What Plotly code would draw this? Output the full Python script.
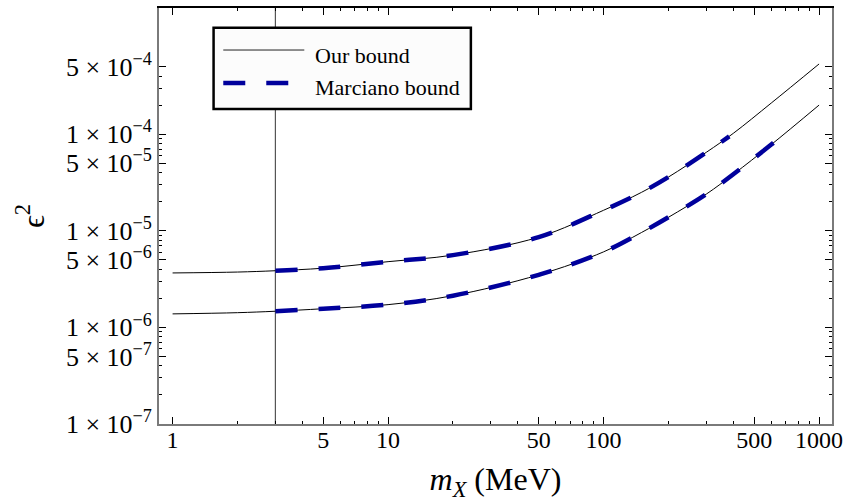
import plotly.graph_objects as go

# ---------------- data ----------------
mass = [1, 2, 3, 5, 10, 20, 50, 100, 150, 200, 300, 400, 600, 1000]
our_upper = [3.66e-6, 3.74e-6, 3.86e-6, 4.10e-6, 4.79e-6, 5.60e-6, 8.60e-6,
             1.63e-5, 2.50e-5, 3.60e-5, 6.50e-5, 1.02e-4, 2.10e-4, 5.33e-4]
our_lower = [1.38e-6, 1.42e-6, 1.47e-6, 1.56e-6, 1.72e-6, 2.13e-6, 3.50e-6,
             6.05e-6, 9.60e-6, 1.38e-5, 2.40e-5, 3.84e-5, 7.80e-5, 2.00e-4]

marc_mass_upper = [3, 5, 10, 20, 50, 100, 150, 200, 300, 383]
marc_upper = [3.86e-6, 4.10e-6, 4.79e-6, 5.60e-6, 8.60e-6,
              1.63e-5, 2.50e-5, 3.60e-5, 6.50e-5, 9.50e-5]
marc_mass_lower = [3, 5, 10, 20, 50, 100, 150, 200, 300, 400, 600, 640]
marc_lower = [1.47e-6, 1.56e-6, 1.72e-6, 2.13e-6, 3.50e-6, 6.05e-6,
              9.60e-6, 1.38e-5, 2.40e-5, 3.84e-5, 7.80e-5, 8.75e-5]

cut_mass = 3  # vertical reference line

x_tickvals = [1, 5, 10, 50, 100, 500, 1000]
x_ticktext = ["1", "5", "10", "50", "100", "500", "1000"]
x_minor = [2, 3, 4, 6, 7, 8, 9, 20, 30, 40, 60, 70, 80, 90,
           200, 300, 400, 600, 700, 800, 900]

y_tickvals = [1e-7, 5e-7, 1e-6, 5e-6, 1e-5, 5e-5, 1e-4, 5e-4]
y_ticktext = ["1 × 10<sup>−7</sup>", "5 × 10<sup>−7</sup>",
              "1 × 10<sup>−6</sup>", "5 × 10<sup>−6</sup>",
              "1 × 10<sup>−5</sup>", "5 × 10<sup>−5</sup>",
              "1 × 10<sup>−4</sup>", "5 × 10<sup>−4</sup>"]
y_minor = [m * 10.0 ** e for e in (-7, -6, -5, -4) for m in (2, 3, 4, 6, 7, 8, 9)]
y_minor = [v for v in y_minor if v < 5e-4]

x_range_log = [-0.063, 3.06]
y_range_log = [-7.0, -2.694]

# ---------------- figure ----------------
FONT = "Liberation Serif, Times New Roman, serif"
BLUE = "#00009c"
FRAME = "#7a7a7a"

fig = go.Figure()

fig.add_trace(go.Scatter(
    x=[cut_mass, cut_mass], y=[10 ** y_range_log[0], 10 ** y_range_log[1]],
    mode="lines", line=dict(color="#555555", width=1.2),
    showlegend=False, hoverinfo="skip"))

for xs, ys in ((mass, our_upper), (mass, our_lower)):
    fig.add_trace(go.Scatter(
        x=xs, y=ys, mode="lines", line=dict(color="black", width=1, shape="spline"),
        showlegend=False))

for xs, ys in ((marc_mass_upper, marc_upper), (marc_mass_lower, marc_lower)):
    fig.add_trace(go.Scatter(
        x=xs, y=ys, mode="lines",
        line=dict(color=BLUE, width=4.5, dash="22px,21px", shape="spline"),
        showlegend=False))

# dummy trace for the mirrored (top/right) tick axes
fig.add_trace(go.Scatter(x=[10], y=[1e-5], xaxis="x2", yaxis="y2",
                         mode="markers", marker=dict(opacity=0),
                         showlegend=False, hoverinfo="skip"))

common_tick = dict(ticks="inside", ticklen=7, tickwidth=1, tickcolor="black")
minor_style = dict(ticks="inside", ticklen=3.5, tickwidth=1, tickcolor="black")

fig.update_layout(
    width=847, height=502,
    margin=dict(l=159, r=15, t=8, b=78, autoexpand=False),
    paper_bgcolor="white", plot_bgcolor="white",
    font=dict(family=FONT, size=24, color="black"),
    showlegend=False,
    xaxis=dict(type="log", range=x_range_log, showgrid=False, zeroline=False,
               showline=True, linecolor=FRAME, linewidth=1.7,
               tickmode="array", tickvals=x_tickvals, ticktext=x_ticktext,
               minor=dict(tickmode="array", tickvals=x_minor, **minor_style),
               tickfont=dict(family=FONT, size=24), automargin=False,
               ticklabelstandoff=-7,
               title=dict(text="<i>m</i><sub><i>X</i></sub> (MeV)",
                          font=dict(family=FONT, size=32), standoff=22),
               **common_tick),
    yaxis=dict(type="log", range=y_range_log, showgrid=False, zeroline=False,
               showline=True, linecolor=FRAME, linewidth=1.7,
               tickmode="array", tickvals=y_tickvals, ticktext=y_ticktext,
               minor=dict(tickmode="array", tickvals=y_minor, **minor_style),
               tickfont=dict(family=FONT, size=26), automargin=False,
               title=dict(text="ϵ<sup>2</sup>",
                          font=dict(family=FONT, size=32), standoff=12),
               **common_tick),
    xaxis2=dict(type="log", range=x_range_log, overlaying="x", side="top",
                anchor="y2", showgrid=False, zeroline=False,
                showline=True, linecolor="black", linewidth=1.7,
                tickmode="array", tickvals=x_tickvals, showticklabels=False,
                minor=dict(tickmode="array", tickvals=x_minor, **minor_style),
                automargin=False, **common_tick),
    yaxis2=dict(type="log", range=y_range_log, overlaying="y", side="right",
                anchor="x2", showgrid=False, zeroline=False,
                showline=True, linecolor=FRAME, linewidth=1.7,
                tickmode="array", tickvals=y_tickvals, showticklabels=False,
                minor=dict(tickmode="array", tickvals=y_minor, **minor_style),
                automargin=False, **common_tick),
)

# ---------------- legend box (drawn by hand to match the sample length) ----------------
lx0, lx1, ly0, ly1 = 0.0811, 0.4634, 0.757, 0.9526
fig.add_shape(type="rect", xref="paper", yref="paper", x0=lx0, x1=lx1, y0=ly0, y1=ly1,
              line=dict(color="black", width=2.5), fillcolor="#fcfcfc", layer="above")
fig.add_shape(type="line", xref="paper", yref="paper", x0=0.0955, x1=0.2159,
              y0=0.899, y1=0.899, line=dict(color="#222222", width=1))
fig.add_shape(type="line", xref="paper", yref="paper", x0=0.0955, x1=0.2159,
              y0=0.8197, y1=0.8197, line=dict(color=BLUE, width=4.5, dash="22px,21px"))
fig.add_annotation(xref="paper", yref="paper", x=0.2287, y=0.887, text="Our bound",
                   showarrow=False, xanchor="left", yanchor="middle",
                   font=dict(family=FONT, size=22, color="black"))
fig.add_annotation(xref="paper", yref="paper", x=0.2287, y=0.8077, text="Marciano bound",
                   showarrow=False, xanchor="left", yanchor="middle",
                   font=dict(family=FONT, size=22, color="black"))

fig.write_html("out.html", config={"displayModeBar": False},
               post_script="document.body.style.margin='0';document.body.style.overflow='hidden';")
